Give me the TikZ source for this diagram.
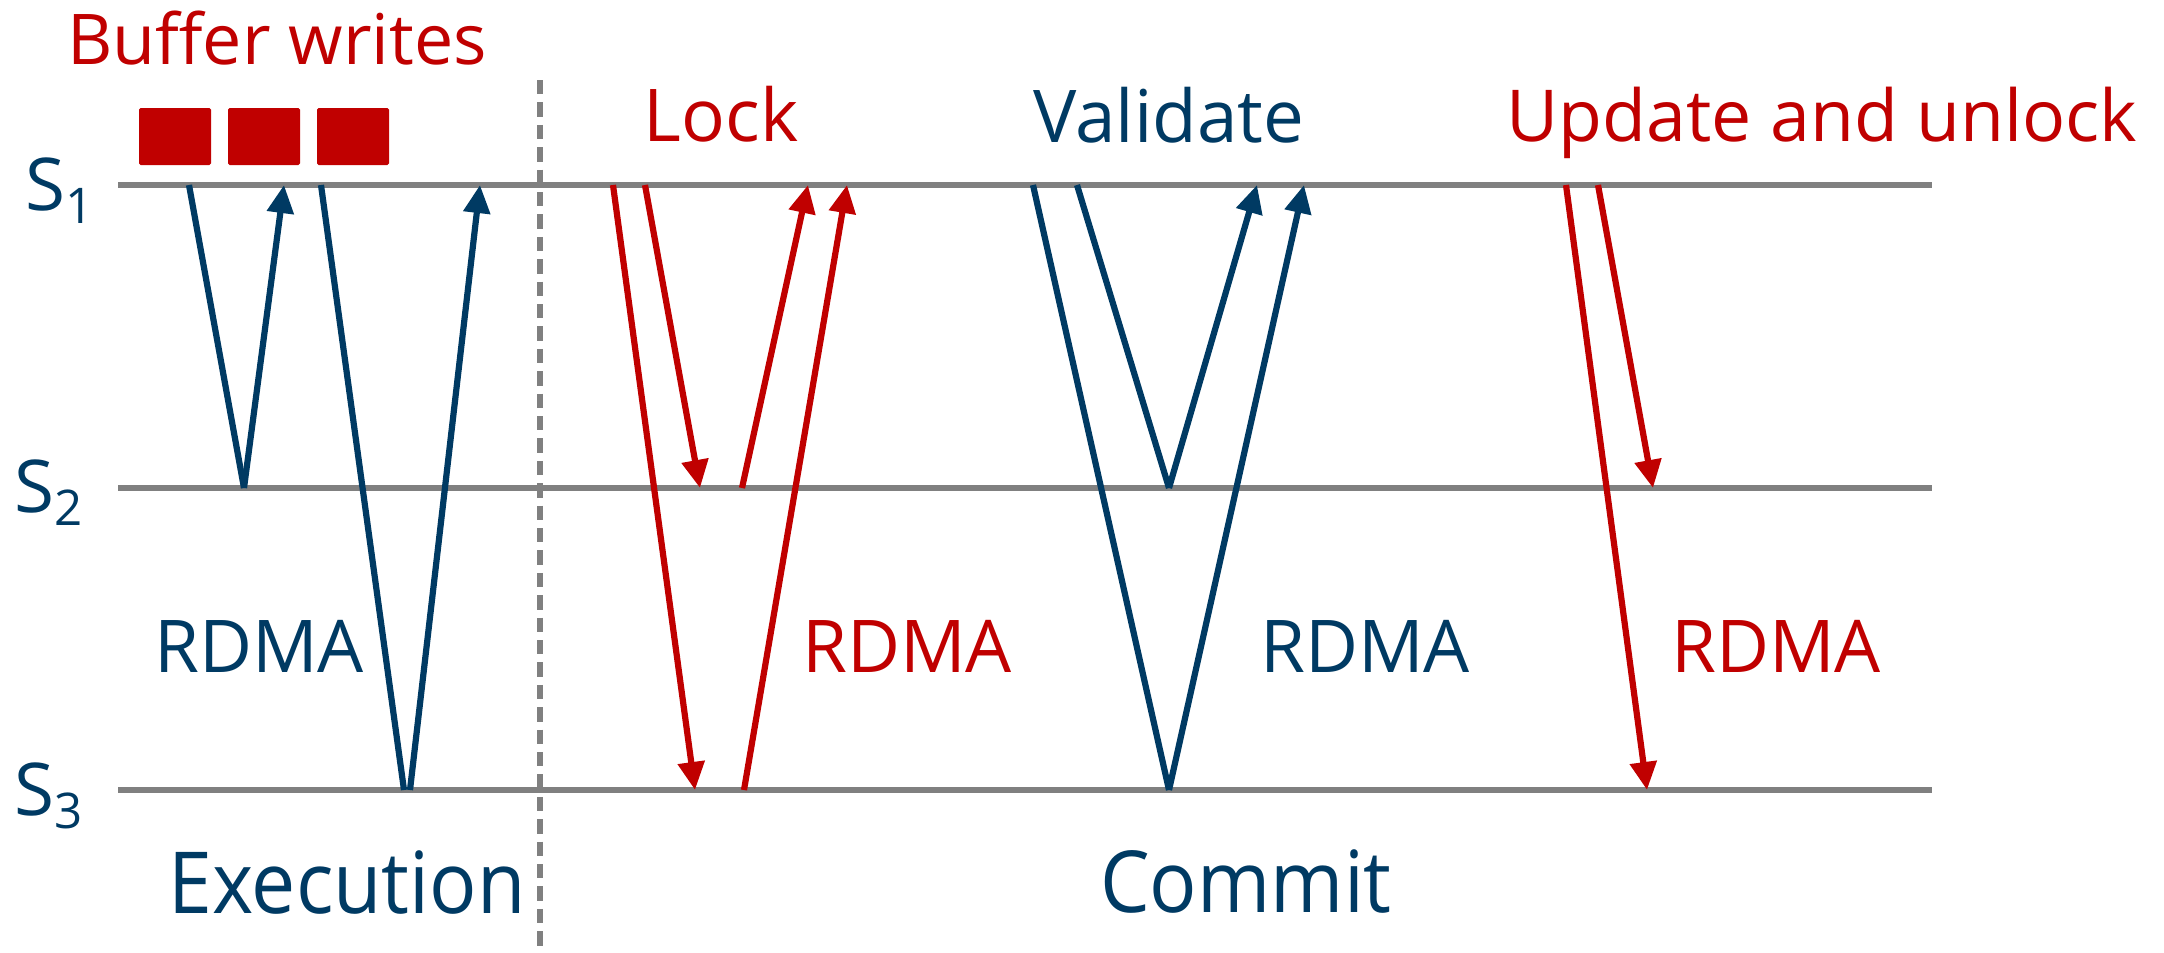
\documentclass[tikz,border=0pt]{standalone}
\usepackage{fontspec}
\setmainfont{Open Sans}
\newfontfamily\phasefont[FakeStretch=0.92]{Open Sans}
\usetikzlibrary{arrows.meta}
\definecolor{navy}{RGB}{0,58,99}
\definecolor{crimson}{RGB}{192,0,0}
\definecolor{rulegray}{RGB}{128,128,128}

\newcommand{\srv}[1]{{\fontsize{18.2}{20}\selectfont S}\raisebox{-3.25pt}{\fontsize{12.3}{14}\selectfont #1}}

\begin{document}
\begin{tikzpicture}[x=0.25pt,y=-0.25pt,
  timeline/.style={draw=rulegray,line width=1.45pt},
  divider/.style={draw=rulegray,line width=1.45pt,dash pattern=on 3.6pt off 2pt},
  msg/.style={line width=1.55pt},
  msgtip/.style={msg,-{Triangle[length=7pt,width=6.5pt]}},
  label/.style={inner sep=0pt,anchor=base,font=\fontsize{18.2}{20}\selectfont},
  phase/.style={inner sep=0pt,anchor=base,text=navy,font=\phasefont\fontsize{21.4}{24}\selectfont},
  srvlabel/.style={inner sep=0pt,anchor=base west,text=navy},
  wbuf/.style={fill=crimson,draw=none,rounded corners=0.4pt}]

\useasboundingbox (0,0) rectangle (2164,953);

% server time lines
\coordinate (s1w) at (118,185);  \coordinate (s1e) at (1932,185);
\coordinate (s2w) at (118,488);  \coordinate (s2e) at (1932,488);
\coordinate (s3w) at (118,790);  \coordinate (s3e) at (1932,790);
\draw[timeline] (s1w) -- (s1e);
\draw[timeline] (s2w) -- (s2e);
\draw[timeline] (s3w) -- (s3e);

\node[srvlabel] (lab1) at (25,210) {\srv{1}};
\node[srvlabel] (lab2) at (14,512) {\srv{2}};
\node[srvlabel] (lab3) at (14,815) {\srv{3}};

% phase divider
\coordinate (dtop) at (540,80);
\coordinate (dbot) at (540,953);
\draw[divider] (dtop) -- (dbot);

% buffered writes
\fill[wbuf] (139,108) rectangle (211,165);
\fill[wbuf] (228,108) rectangle (300,165);
\fill[wbuf] (317,108) rectangle (389,165);
\node[label,text=crimson,font=\fontsize{17.5}{20}\selectfont] (buf) at (277,65) {Buffer writes};

% execution reads
\coordinate (ea1) at (189,185); \coordinate (ea2) at (244,488); \coordinate (ea3) at (284,185);
\coordinate (eb1) at (321,185); \coordinate (eb2) at (404,790);
\coordinate (eb3) at (410,790); \coordinate (eb4) at (480,185);
\draw[msg,navy] (ea1) -- (ea2);
\draw[msgtip,navy] (ea2) -- (ea3);
\draw[msg,navy] (eb1) -- (eb2);
\draw[msgtip,navy] (eb3) -- (eb4);

% lock
\coordinate (la1) at (613,185); \coordinate (la2) at (695,790);
\coordinate (lb1) at (645,185); \coordinate (lb2) at (700,488);
\coordinate (lc1) at (742,488); \coordinate (lc2) at (808,185);
\coordinate (ld1) at (744,790); \coordinate (ld2) at (847,185);
\draw[msgtip,crimson] (la1) -- (la2);
\draw[msgtip,crimson] (lb1) -- (lb2);
\draw[msgtip,crimson] (lc1) -- (lc2);
\draw[msgtip,crimson] (ld1) -- (ld2);

% validate
\coordinate (va1) at (1033,185); \coordinate (va2) at (1169,790); \coordinate (va3) at (1304,185);
\coordinate (vb1) at (1077,185); \coordinate (vb2) at (1169,488); \coordinate (vb3) at (1257,185);
\draw[msg,navy] (va1) -- (va2);
\draw[msgtip,navy] (va2) -- (va3);
\draw[msg,navy] (vb1) -- (vb2);
\draw[msgtip,navy] (vb2) -- (vb3);

% update and unlock
\coordinate (ua1) at (1566,185); \coordinate (ua2) at (1647,790);
\coordinate (ub1) at (1598,185); \coordinate (ub2) at (1653,488);
\draw[msgtip,crimson] (ua1) -- (ua2);
\draw[msgtip,crimson] (ub1) -- (ub2);

% step titles
\node[label,text=crimson] (lock) at (721,141) {Lock};
\node[label,text=navy] (validate) at (1169,142) {Validate};
\node[label,text=crimson,font=\fontsize{17.9}{20}\selectfont] (update) at (1822,141) {Update and unlock};

% transport labels
\node[label,text=navy] (r1) at (259,672) {RDMA};
\node[label,text=crimson] (r2) at (907,672) {RDMA};
\node[label,text=navy] (r3) at (1365,672) {RDMA};
\node[label,text=crimson] (r4) at (1776,672) {RDMA};

% phases
\node[phase] (exec) at (347,913) {Execution};
\node[phase] (commit) at (1246,912) {Commit};
\end{tikzpicture}
\end{document}
